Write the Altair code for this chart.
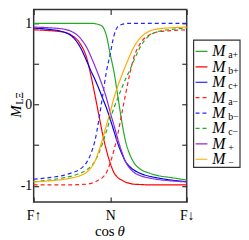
import altair as alt
import pandas as pd

SERIF = "Liberation Serif"

# ---- data ----
cos_theta = [-1, -0.8, -0.6, -0.5, -0.4, -0.3, -0.25, -0.2, -0.15, -0.1, -0.05, 0,
             0.05, 0.1, 0.15, 0.2, 0.25, 0.3, 0.4, 0.5, 0.6, 0.8, 1]

M_a_plus = [1.0, 1.0, 1.0, 1.0, 1.0, 1.0, 1.0, 0.995, 0.985, 0.96, 0.85, 0.62,
            0.4, 0.1, -0.2, -0.45, -0.6, -0.7, -0.8, -0.84, -0.87, -0.9, -0.93]
M_b_plus = [0.92, 0.91, 0.89, 0.85, 0.76, 0.55, 0.35, 0.12, -0.12, -0.36, -0.56, -0.72,
            -0.84, -0.9, -0.93, -0.955, -0.97, -0.98, -0.985, -0.99, -0.99, -0.99, -0.99]
M_c_plus = [0.94, 0.925, 0.89, 0.84, 0.72, 0.52, 0.41, 0.31, 0.2, 0.08, -0.04, -0.18,
            -0.33, -0.48, -0.6, -0.7, -0.76, -0.8, -0.85, -0.88, -0.9, -0.93, -0.95]
M_a_minus = [-0.99, -0.99, -0.99, -0.99, -0.985, -0.98, -0.97, -0.955, -0.93, -0.9, -0.84, -0.72,
             -0.56, -0.36, -0.12, 0.12, 0.35, 0.55, 0.76, 0.85, 0.89, 0.91, 0.92]
M_b_minus = [-0.92, -0.9, -0.87, -0.84, -0.8, -0.7, -0.6, -0.45, -0.2, 0.1, 0.4, 0.62,
             0.85, 0.96, 0.985, 0.995, 1.0, 1.0, 1.0, 1.0, 1.0, 1.0, 1.0]
M_c_minus = [-0.95, -0.93, -0.9, -0.88, -0.85, -0.8, -0.76, -0.7, -0.6, -0.48, -0.33, -0.18,
             -0.04, 0.08, 0.2, 0.31, 0.41, 0.52, 0.72, 0.84, 0.89, 0.925, 0.94]
M_plus = [0.953, 0.945, 0.927, 0.897, 0.827, 0.69, 0.587, 0.475, 0.355, 0.227, 0.083, -0.093,
          -0.257, -0.427, -0.577, -0.702, -0.777, -0.827, -0.878, -0.903, -0.92, -0.94, -0.953]
M_minus = [-0.953, -0.94, -0.92, -0.903, -0.878, -0.827, -0.777, -0.702, -0.577, -0.427, -0.257, -0.093,
           0.083, 0.227, 0.355, 0.475, 0.587, 0.69, 0.827, 0.897, 0.927, 0.945, 0.953]

series_keys = ["a+", "b+", "c+", "a-", "b-", "c-", "+", "-"]
series_subs = ["a+", "b+", "c+", "a\u2212", "b\u2212", "c\u2212", "+", "\u2212"]
series_values = [M_a_plus, M_b_plus, M_c_plus, M_a_minus, M_b_minus, M_c_minus, M_plus, M_minus]
series_colors = ["#22aa22", "#ff0000", "#0000ee", "#ff2020", "#2424ff", "#22aa22", "#8a2be2", "#ffaa00"]
series_dashes = [[1, 0], [1, 0], [1, 0], [4, 3], [4, 3], [4, 3], [1, 0], [1, 0]]

x_tick_values = [-1, 0, 1]
x_tick_labels = ["F\u2191\u2009", "N", "F\u2193\u00a0\u00a0"]
y_tick_values = [-1, -0.5, 0, 0.5, 1]
y_tick_labels = ["-1", "", "0", "", "1"]

rows = []
for key, vals in zip(series_keys, series_values):
    for xv, yv in zip(cos_theta, vals):
        rows.append({"x": xv, "y": yv, "series": key})
df = pd.DataFrame(rows)
legend_df = pd.DataFrame({"idx": list(range(len(series_keys))), "series": series_keys, "sub": series_subs})
one = pd.DataFrame({"k": [0]})


def label_expr(values, labels):
    expr = "''"
    for v, l in zip(values[::-1], labels[::-1]):
        expr = f"datum.value == {v} ? '{l}' : ({expr})"
    return expr


xscale = alt.Scale(domain=[-1, 1], nice=False, zero=False)
yscale = alt.Scale(domain=[-1.2, 1.17], nice=False, zero=False)
color = alt.Color("series:N", scale=alt.Scale(domain=series_keys, range=series_colors), legend=None)
dash = alt.StrokeDash("series:N", scale=alt.Scale(domain=series_keys, range=series_dashes), legend=None)

tick_common = dict(offset=-5, tickSize=5, domain=False, grid=False, title=None,
                   tickColor="#333333", tickWidth=1.2)

lines = alt.Chart(df).mark_line(strokeWidth=1.2, interpolate="monotone").encode(
    x=alt.X("x:Q", scale=xscale, axis=alt.Axis(
        orient="bottom", values=x_tick_values, labelExpr=label_expr(x_tick_values, x_tick_labels),
        labelFont=SERIF, labelFontSize=14, labelColor="black", labelPadding=7,
        labelFlush=False, labelOverlap=False, **tick_common)),
    y=alt.Y("y:Q", scale=yscale, axis=alt.Axis(
        orient="left", values=y_tick_values, labelExpr=label_expr(y_tick_values, y_tick_labels),
        labelFont=SERIF, labelFontSize=14, labelColor="black", labelPadding=2,
        labelOverlap=False, **tick_common)),
    color=color,
    strokeDash=dash,
)

mirror = alt.Chart(df).mark_point(opacity=0).encode(
    x=alt.X("x:Q", scale=xscale, axis=alt.Axis(orient="top", values=x_tick_values, labels=False, **tick_common)),
    y=alt.Y("y:Q", scale=yscale, axis=alt.Axis(orient="right", values=y_tick_values, labels=False, **tick_common)),
)

leg_y = alt.Y("idx:Q", scale=alt.Scale(domain=[0, 7], range=[42.5, 151.7]), axis=None)

leg_box = alt.Chart(one).mark_rect(fill="white", stroke="#333333", strokeWidth=1.2).encode(
    x=alt.value(162), x2=alt.value(209), y=alt.value(31), y2=alt.value(160))
leg_lines = alt.Chart(legend_df).mark_rule(strokeWidth=1.2).encode(
    x=alt.value(164), x2=alt.value(176), y=leg_y, color=color, strokeDash=dash)
leg_m = alt.Chart(legend_df).mark_text(text="M", font=SERIF, fontSize=16, fontStyle="italic",
                                       align="left", baseline="alphabetic", dy=5, color="black").encode(
    x=alt.value(181), y=leg_y)
leg_sub = alt.Chart(legend_df).mark_text(font=SERIF, fontSize=10, align="left",
                                         baseline="alphabetic", dy=7, color="black").encode(
    x=alt.value(197), y=leg_y, text="sub:N")

ytitle_m = alt.Chart(one).mark_text(text="M", font=SERIF, fontSize=15, fontStyle="italic", angle=270,
                                    align="center", baseline="alphabetic", color="black").encode(
    x=alt.value(-12.5), y=alt.value(103.5))
ytitle_sub = alt.Chart(one).mark_text(text="L\u039e", font=SERIF, fontSize=10, angle=270,
                                      align="center", baseline="alphabetic", color="black").encode(
    x=alt.value(-11), y=alt.value(90))
xtitle_cos = alt.Chart(one).mark_text(text="cos", font=SERIF, fontSize=15, align="right",
                                      baseline="alphabetic", color="black").encode(
    x=alt.value(82), y=alt.value(229))
xtitle_theta = alt.Chart(one).mark_text(text="\u03b8", font=SERIF, fontSize=15, fontStyle="italic",
                                        align="left", baseline="alphabetic", color="black").encode(
    x=alt.value(85), y=alt.value(229))

chart = alt.layer(
    lines, mirror, leg_box, leg_lines, leg_m, leg_sub, ytitle_m, ytitle_sub, xtitle_cos, xtitle_theta
).resolve_scale(x="independent", y="independent").properties(
    width=155, height=195,
    padding={"left": 26, "top": 0, "right": 55, "bottom": 37},
    autosize=alt.AutoSizeParams(type="none"),
).configure_view(stroke="#333333", strokeWidth=1.5)

chart.save("out.html", embed_options={"renderer": "svg", "actions": False})
